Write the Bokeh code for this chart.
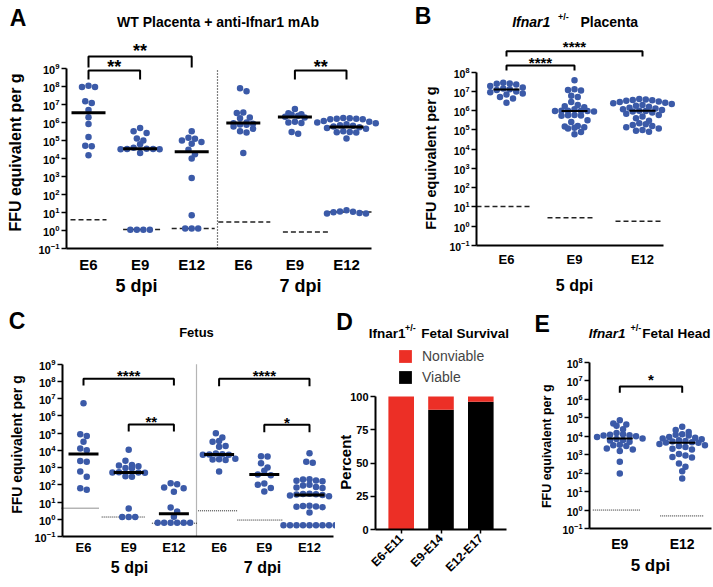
import math
import numpy as np
from bokeh.plotting import figure
from bokeh.layouts import column, row
from bokeh.models import (Range1d, FixedTicker, Label, ColumnDataSource, Legend, LegendItem)
from bokeh.core.properties import value
from bokeh.embed import file_html
from bokeh.resources import INLINE

FONT = "Liberation Sans"
BLUE = "#3b5aa8"
RED = "#ec2f26"

# ------------------------------------------------------------------ data
# Panel A : WT placenta + anti-Ifnar1 mAb
a_categories = ["E6", "E9", "E12", "E6", "E9", "E12"]
a_groups = ["5 dpi", "7 dpi"]
a_values = [
    [1.1e8, 9.5e7, 9.5e7, 1.5e7, 1.2e7, 4.9e6, 1.95e6, 8.3e5, 1.55e5, 5.1e4, 4.8e4, 1.5e4],
    [5.0e5, 3.3e5, 2.6e5, 1.3e5, 1.0e5, 6.2e4, 4.0e4, 3.5e4, 3.4e4, 3.4e4, 3.3e4, 3.3e4, 2.0e4,
     1.1, 1.1, 1.1, 1.1],
    [3.3e5, 1.4e5, 1.26e5, 1.0e5, 8.3e4, 6.6e4, 3.1e4, 1.7e4, 1.0e4, 830, 7.1, 1.3, 1.3, 1.3],
    [8e7, 5.5e7, 3.6e6, 3.4e6, 1.9e6, 1.7e6, 1.0e6, 9e5, 8.5e5, 7.7e5, 7.5e5, 6e5, 4.5e5,
     3.3e5, 2.8e5, 2.0e4],
    [5.6e6, 3.3e6, 2.9e6, 2.7e6, 2.4e6, 2.1e6, 1.9e6, 1.1e6, 1.0e6, 9.5e5, 3.0e5, 2.4e5],
    [1.8e6, 1.7e6, 1.6e6, 1.6e6, 1.5e6, 1.5e6, 1.2e6, 1.1e6, 1.0e6, 9e5, 8e5, 7e5, 6.5e5, 6e5,
     5.5e5, 5e5, 4.5e5, 3.3e5, 3.0e5, 2.9e5, 2.8e5, 1.3e5,
     13.2, 11.2, 11.0, 10.2, 9.5, 8.7, 8.7],
]
a_medians = [3.5e6, 3.5e4, 2.4e4, 9.5e5, 2.0e6, 5.7e5]
a_lod = [4.0, 1.15, 1.3, 3.0, 0.82, 10.5]
a_sig_pairs = [(0, 2), (0, 1), (4, 5)]
a_sig_text = ["**", "**", "**"]

# Panel B : Ifnar1+/- placenta
b_categories = ["E6", "E9", "E12"]
b_groups = ["5 dpi"]
b_values = [
    [2.8e7, 2.6e7, 2.5e7, 2.3e7, 1.9e7, 1.6e7, 1.4e7, 1.3e7, 1.2e7, 1.0e7, 9e6, 7.7e6, 7.0e6,
     5.2e6, 4.3e6, 2.6e6],
    [3.8e7, 1.3e7, 1.2e7, 1.1e7, 6e6, 5.1e6, 2.8e6, 2.0e6, 1.7e6, 1.5e6, 1.2e6, 1.0e6, 1.0e6,
     9.8e5, 9.6e5, 9.5e5, 9.0e5, 6e5, 5.8e5, 5.6e5, 5.5e5, 3.2e5, 2.6e5, 1.6e5, 1.5e5, 1.4e5,
     1.3e5, 1.2e5, 7.8e4, 6.0e4],
    [4.0e6, 3.8e6, 3.6e6, 3.5e6, 3.3e6, 3.0e6, 2.8e6, 2.6e6, 2.4e6, 2.2e6, 2.0e6, 1.8e6, 1.6e6,
     1.4e6, 1.3e6, 1.2e6, 1.1e6, 1.0e6, 9.5e5, 9e5, 8e5, 7e5, 6e5, 5e5, 4e5, 3e5, 2.2e5, 2.0e5,
     1.8e5, 1.6e5, 1.4e5, 1.2e5, 1.0e5, 9e4, 8e4],
]
b_medians = [1.25e7, 9.6e5, 1.0e6]
b_lod = [10.5, 2.8, 1.8]
b_sig_pairs = [(0, 2), (0, 1)]
b_sig_text = ["****", "****"]

# Panel C : Fetus
c_categories = ["E6", "E9", "E12", "E6", "E9", "E12"]
c_groups = ["5 dpi", "7 dpi"]
c_values = [
    [5.5e6, 8.7e4, 6.9e4, 3.2e4, 1.3e4, 1.0e4, 2.4e3, 2.2e3, 590, 290, 63, 51],
    [1.1e4, 2.5e3, 1.4e3, 1.3e3, 1.2e3, 950, 900, 530, 520, 510, 500, 310, 290, 4.2,
     1.35, 1.35, 1.35],
    [124, 107, 69, 63, 40, 4.8, 2.8, 1.4, 0.62, 0.62, 0.62, 0.62, 0.62, 0.62],
    [9.8e4, 5.5e4, 3.5e4, 3.2e4, 1.8e4, 1.6e4, 6.5e3, 6.0e3, 5.8e3, 5.6e3, 5.5e3, 3.3e3,
     3.0e3, 2.9e3, 2.8e3, 590],
    [4.5e3, 4.4e3, 1.8e3, 1.0e3, 650, 400, 360, 120, 100, 66, 41],
    [6.9e3, 2.2e3, 1.9e3, 210, 200, 180, 170, 160, 100, 90, 75, 70, 65, 30, 29, 28, 27, 26,
     24, 22, 6.0, 5.8, 5.5, 5.3, 5.0, 2.5,
     0.45, 0.45, 0.45, 0.45, 0.45, 0.45, 0.45, 0.45, 0.45],
]
c_medians = [6.2e3, 520, 2.1, 5.8e3, 400, 26]
c_lod = [4.4, 1.35, 0.59, 3.1, 0.9, 0.46]
c_sig_pairs = [(0, 2), (1, 2), (3, 5), (4, 5)]
c_sig_text = ["****", "**", "****", "*"]

# Panel D : fetal survival (percent)
d_categories = ["E6-E11", "E9-E14", "E12-E17"]
d_viable = [0, 90, 96]
d_nonviable = [100, 10, 4]

# Panel E : fetal head
e_categories = ["E9", "E12"]
e_groups = ["5 dpi"]
e_values = [
    [7.4e4, 4.9e4, 4.3e4, 3.7e4, 2.4e4, 1.5e4, 1.3e4, 1.2e4, 1.15e4, 1.1e4, 1.0e4, 9e3, 7.6e3,
     7e3, 6.2e3, 5.8e3, 5.0e3, 3.5e3, 3.3e3, 3.0e3, 2.2e3, 1.9e3, 1.6e3, 410, 95],
    [3.3e4, 2.2e4, 1.7e4, 1.3e4, 1.2e4, 1.1e4, 9e3, 8.2e3, 7.5e3, 6.8e3, 6.1e3, 5.6e3, 5.2e3,
     4.8e3, 4.6e3, 4.4e3, 3.8e3, 3.3e3, 3.0e3, 2.6e3, 2.1e3, 1.9e3, 1.1e3, 900, 750, 700,
     330, 220, 125, 51],
]
e_medians = [7.6e3, 4.5e3]
e_lod = [1.0, 0.48]
e_sig_pairs = [(0, 1)]
e_sig_text = ["*"]

# ------------------------------------------------------------------ layout (page px)
# fig: x, y, w, h ; axis box: L (y-axis x), R (x-axis end), B (x-axis y)
GEO = {
    "A": dict(x=0, y=0, w=400, h=300, L=66, R=371, B=248, x0=88, unit=51.6, ppd=18.0, ybot=-1, ytop=9),
    "B": dict(x=400, y=0, w=313, h=300, L=476, R=663, B=245, x0=506, unit=68.0, ppd=19.26, ybot=-1, ytop=8),
    "C": dict(x=0, y=300, w=335, h=287, L=62, R=333, B=536, x0=83, unit=45.2, ppd=17.23, ybot=-1, ytop=9),
    "D": dict(x=335, y=300, w=193, h=287, L=375, R=506, B=529, x0=400.7, unit=39.8, ppd=1.33),
    "E": dict(x=528, y=300, w=185, h=287, L=589, R=711, B=528, x0=619.3, unit=62.4, ppd=18.45, ybot=-1, ytop=8),
}


def px2x(g, px):
    return (px - g["x0"]) / g["unit"]


def py2y(g, py):
    if "ybot" in g:
        return 10 ** (g["ybot"] + (g["B"] - py) / g["ppd"])
    return (g["B"] - py) / g["ppd"]


def make_fig(g, log=True):
    xr = Range1d(px2x(g, g["x"]), px2x(g, g["x"] + g["w"]))
    yr = Range1d(py2y(g, g["y"] + g["h"]), py2y(g, g["y"]))
    p = figure(width=g["w"], height=g["h"], x_range=xr, y_range=yr,
               y_axis_type="log" if log else "linear",
               output_backend="svg", toolbar_location=None,
               min_border_left=0, min_border_right=0, min_border_top=0, min_border_bottom=0)
    p.outline_line_color = None
    p.xgrid.visible = False
    p.ygrid.visible = False
    p.background_fill_color = "white"
    p.border_fill_color = "white"
    ybase = 10.0 ** g["ybot"] if log else 0
    p.xaxis.fixed_location = ybase
    p.yaxis.fixed_location = px2x(g, g["L"])
    p.xaxis.bounds = (px2x(g, g["L"]), px2x(g, g["R"]))
    for ax in p.axis:
        ax.axis_line_width = 2
        ax.axis_line_color = "black"
        ax.major_label_text_font = FONT
        ax.major_label_text_font_style = "bold"
        ax.major_label_text_color = "black"
        ax.minor_tick_line_color = None
        ax.major_tick_line_width = 1.5
        ax.major_tick_line_color = "black"
    return p


def label(p, g, px, py, text, size, style="bold", align="center", angle=0.0):
    p.add_layout(Label(x=px - g["x"], y=g["y"] + g["h"] - py, x_units="screen", y_units="screen",
                       text=text, text_font=FONT, text_font_size=f"{size}px",
                       text_font_style=style, text_align=align, text_baseline="middle",
                       text_color="black", angle=angle))


def swarm(vals, ppd, d):
    y = np.log10(np.asarray(vals, float)) * ppd
    order = np.argsort(-y, kind="stable")
    offs = np.zeros(len(y))
    rows, cur = [], [order[0]]
    for i in order[1:]:
        if y[cur[0]] - y[i] < d * 0.85:
            cur.append(i)
        else:
            rows.append(cur)
            cur = [i]
    rows.append(cur)
    for r in rows:
        n = len(r)
        slots = sorted(range(n), key=lambda k: abs(k - (n - 1) / 2))
        for k, i in zip(slots, r):
            offs[i] = (k - (n - 1) / 2) * d
    return offs


def scatter_panel(p, g, values, medians, lods, lod_spans, med_half, med_w,
                  lod_dash, lod_w, dot=6.5):
    u = g["unit"]
    p.segment(x0=[i + s[0] / u for i, s in enumerate(lod_spans)], y0=lods,
              x1=[i + s[1] / u for i, s in enumerate(lod_spans)], y1=lods,
              line_color="#222222", line_width=lod_w, line_dash=lod_dash)
    xs, ys = [], []
    for i, vals in enumerate(values):
        offs = swarm(vals, g["ppd"], dot)
        xs += list(i + offs / u)
        ys += list(vals)
    p.scatter(x=xs, y=ys, size=dot, fill_color=BLUE, line_color=None)
    n = len(values)
    p.segment(x0=[i - med_half / u for i in range(n)], y0=medians,
              x1=[i + med_half / u for i in range(n)], y1=medians,
              line_color="black", line_width=med_w)


def log_axes(p, g, cats, tick_font, ytick_font, standoff):
    ya = p.yaxis[0]
    ya.ticker = FixedTicker(ticks=[10.0 ** k for k in range(g["ybot"], g["ytop"] + 1)])
    ya.bounds = (10.0 ** g["ybot"], 10.0 ** g["ytop"])
    ya.major_tick_out = 5
    ya.major_tick_in = 0
    ya.major_label_standoff = 2
    ya.major_label_text_font_size = f"{ytick_font}px"
    xa = p.xaxis[0]
    xa.ticker = FixedTicker(ticks=list(range(len(cats))))
    xa.major_label_overrides = {i: c for i, c in enumerate(cats)}
    xa.major_tick_out = 0
    xa.major_tick_in = 0
    xa.major_label_standoff = standoff
    xa.major_label_text_font_size = f"{tick_font}px"


def brackets(p, g, pairs, texts, rows, fs):
    for (i, j), t, (h, leg, tc) in zip(pairs, texts, rows):
        p.line(x=[i, i, j, j], y=[py2y(g, leg), py2y(g, h), py2y(g, h), py2y(g, leg)],
               line_color="black", line_width=2)
        p.text(x=[(i + j) / 2], y=[py2y(g, tc + 0.22 * fs)], text=[t],
               text_font=value(FONT), text_font_size=f"{fs}px", text_font_style="bold",
               text_align="center", text_baseline="middle", text_color="black")


# ------------------------------------------------------------------ panel A
g = GEO["A"]
pA = make_fig(g)
log_axes(pA, g, a_categories, 15, 11, 7)
pA.segment(x0=[2.5], y0=[0.1], x1=[2.5], y1=[1e9], line_color="black",
           line_width=1.2, line_dash="1 2")
scatter_panel(pA, g, a_values, a_medians, a_lod,
              [(-18, 18), (-17, 23), (-20, 23), (-25, 27), (-12, 33), (-20, 25)],
              17, 3, "5 3", 1.5)
brackets(pA, g, a_sig_pairs, a_sig_text, [(56, 67, 47), (70, 79, 63), (70, 79, 63)], 18)
label(pA, g, 17.5, 17, "A", 23)
label(pA, g, 217.5, 21.7, "WT Placenta + anti-Ifnar1 mAb", 14)
label(pA, g, 15, 152, "FFU equivalent per g", 16, angle=math.pi / 2)
label(pA, g, 136, 285, a_groups[0], 18)
label(pA, g, 300, 285, a_groups[1], 18)

# ------------------------------------------------------------------ panel B
g = GEO["B"]
pB = make_fig(g)
log_axes(pB, g, b_categories, 13, 10.5, 6)
scatter_panel(pB, g, b_values, b_medians, b_lod,
              [(-30, 26), (-27, 21), (-27, 18)], 13, 2, "5 3", 1.5)
brackets(pB, g, b_sig_pairs, b_sig_text, [(50.7, 56, 43), (65, 70, 59)], 15)
label(pB, g, 422.5, 15, "B", 23)
label(pB, g, 511.7, 21.7, "Ifnar1", 14, style="bold italic", align="left")
label(pB, g, 557.5, 16, "+/-", 9, align="left")
label(pB, g, 580, 21.7, "Placenta", 14, align="left")
label(pB, g, 430, 157.5, "FFU equivalent per g", 14.5, angle=math.pi / 2)
label(pB, g, 574, 285, b_groups[0], 16)

# ------------------------------------------------------------------ panel C
g = GEO["C"]
pC = make_fig(g)
log_axes(pC, g, c_categories, 13, 11, 3)
pC.segment(x0=[2.5], y0=[0.1], x1=[2.5], y1=[1e9], line_color="#b5b5b5", line_width=1.2)
scatter_panel(pC, g, c_values, c_medians, c_lod,
              [(-22, 16), (-27, 17), (-22, 23), (-21, 18), (-27, 18), (-21, 23)],
              15, 3, "1 1", 1)
brackets(pC, g, c_sig_pairs, c_sig_text,
         [(378.3, 385, 371.7), (424, 431, 417.3), (378.3, 385.7, 371.7), (424.3, 431.7, 419)], 15)
label(pC, g, 16.5, 320, "C", 23)
label(pC, g, 196, 331.7, "Fetus", 13)
label(pC, g, 16.7, 444, "FFU equivalent per g", 14, angle=math.pi / 2)
label(pC, g, 129, 566.7, c_groups[0], 16)
label(pC, g, 262, 566.7, c_groups[1], 16)

# ------------------------------------------------------------------ panel D
g = GEO["D"]
pD = make_fig(g, log=False)
src = ColumnDataSource(dict(x=list(range(len(d_categories))), viable=d_viable,
                            nonviable=d_nonviable))
rs = pD.vbar_stack(["viable", "nonviable"], x="x", width=25.6 / g["unit"],
                   color=["black", RED], source=src, line_color=None)
ya = pD.yaxis[0]
ya.ticker = FixedTicker(ticks=[0, 25, 50, 75, 100])
ya.bounds = (0, 100)
ya.major_tick_out = 5
ya.major_tick_in = 0
ya.major_label_standoff = 2
ya.major_label_text_font_size = "11px"
xa = pD.xaxis[0]
xa.ticker = FixedTicker(ticks=[0, 1, 2])
xa.major_label_overrides = {i: c for i, c in enumerate(d_categories)}
xa.major_label_orientation = math.pi / 4
xa.major_tick_out = 4
xa.major_tick_in = 0
xa.major_label_standoff = 3
xa.major_label_text_font_size = "12px"
leg = Legend(items=[LegendItem(label="Nonviable", renderers=[rs[1]]),
                    LegendItem(label="Viable", renderers=[rs[0]])],
             location=(397 - g["x"], g["y"] + g["h"] - 385), orientation="vertical",
             margin=0, padding=0,
             glyph_width=16, glyph_height=16, label_height=16, spacing=5,
             label_standoff=9, label_text_font=FONT, label_text_font_size="14px",
             border_line_color=None, background_fill_alpha=0)
pD.add_layout(leg)
label(pD, g, 344, 321.7, "D", 23)
label(pD, g, 368.3, 333, "Ifnar1", 13.5, align="left")
label(pD, g, 404.5, 327, "+/-", 9, align="left")
label(pD, g, 420.7, 333, "Fetal Survival", 13.5, align="left")
label(pD, g, 345, 461.7, "Percent", 15, angle=math.pi / 2)

# ------------------------------------------------------------------ panel E
g = GEO["E"]
pE = make_fig(g)
log_axes(pE, g, e_categories, 14, 10.5, 7)
scatter_panel(pE, g, e_values, e_medians, e_lod, [(-27, 21), (-22, 21)], 13, 2, "1 1", 1)
brackets(pE, g, e_sig_pairs, e_sig_text, [(386, 392.3, 375.7)], 15)
label(pE, g, 541.7, 323.3, "E", 23)
label(pE, g, 588.3, 333, "Ifnar1", 13.5, style="bold italic", align="left")
label(pE, g, 630, 327, "+/-", 9, align="left")
label(pE, g, 641.7, 333, "Fetal Head", 13.5, align="left")
label(pE, g, 546.7, 445.8, "FFU equivalent per g", 12.5, angle=math.pi / 2)
label(pE, g, 650, 565, e_groups[0], 17)

layout = column(row(pA, pB), row(pC, pD, pE))
open("out.html", "w").write(file_html(layout, INLINE))
